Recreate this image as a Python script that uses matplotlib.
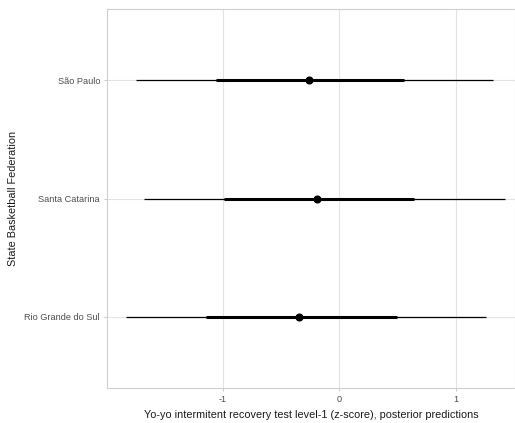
import matplotlib.pyplot as plt
import numpy as np

plt.rcParams['font.family'] = ['Liberation Sans', 'DejaVu Sans']

federations = ['Rio Grande do Sul', 'Santa Catarina', 'São Paulo']
median = [-0.345, -0.194, -0.262]
inner_lo = [-1.142, -0.988, -1.060]
inner_hi = [0.492, 0.643, 0.556]
outer_lo = [-1.830, -1.674, -1.744]
outer_hi = [1.257, 1.423, 1.313]

fig = plt.figure(figsize=(5.15, 4.23), dpi=100)
ax = fig.add_axes([0.2078, 0.0827, 0.7922, 0.896])

ypos = np.arange(1, len(federations) + 1)

# 90% / 50% intervals + median
ax.hlines(ypos, outer_lo, outer_hi, color='black', linewidth=0.9, zorder=3)
ax.hlines(ypos, inner_lo, inner_hi, color='black', linewidth=2.2, zorder=4)
ax.plot(median, ypos, 'o', color='black', markersize=4.8, zorder=5)

ax.set_xlim(-1.99, 1.505)
ax.set_ylim(0.4, 3.6)
ax.set_xticks([-1, 0, 1])
ax.set_xticklabels(['-1', '0', '1'])
ax.set_yticks(ypos)
ax.set_yticklabels(federations)

ax.grid(True, color='#e3e3e3', linewidth=0.8, zorder=0)
ax.set_axisbelow(True)
for s in ax.spines.values():
    s.set_color('#cfcfcf')
    s.set_linewidth(0.8)

ax.tick_params(axis='both', colors='#bdbdbd', labelcolor='#4d4d4d', labelsize=6.6,
               length=2.5, width=0.6, pad=2.5)

ax.set_xlabel('Yo-yo intermitent recovery test level-1 (z-score), posterior predictions',
              fontsize=7.8, color='#1a1a1a', labelpad=4)
ax.set_ylabel('State Basketball Federation', fontsize=7.8, color='#1a1a1a', labelpad=5)

plt.savefig('out.png', dpi=100)
plt.close()
